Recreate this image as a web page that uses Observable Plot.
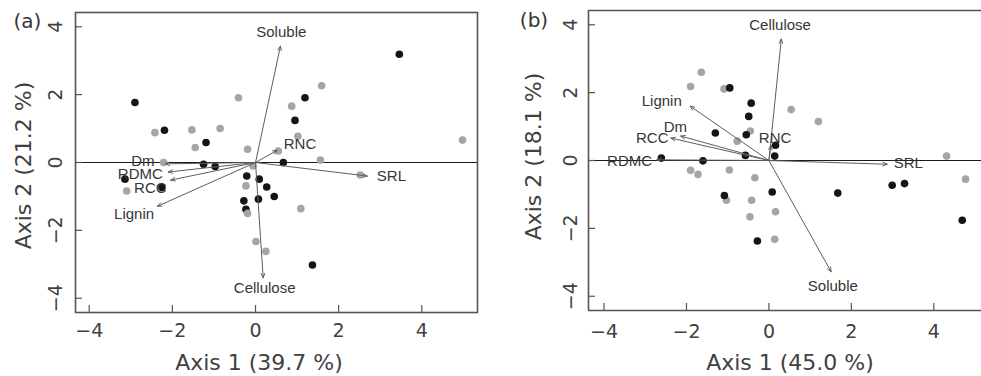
<!DOCTYPE html>
<html><head><meta charset="utf-8">
<script src="https://cdn.jsdelivr.net/npm/d3@7"></script>
<script src="https://cdn.jsdelivr.net/npm/@observablehq/plot@0.6"></script>
<style>
body{margin:0;background:#fff;}
#wrap{display:flex;width:981px;height:376px;overflow:hidden;}
#wrap svg{display:block;flex:none;}
</style></head><body><div id="wrap"></div>
<script>
// ---------- shared ----------
const axisTicks = [-4, -2, 0, 2, 4];
const arrowOrigin = [0, 0];

// ---------- panel (a) ----------
const aTag = "(a)";
const aXTitle = "Axis 1 (39.7 %)";
const aYTitle = "Axis 2 (21.2 %)";
const aBlackX = [-2.90, -2.19, -1.19, -1.25, -0.97, -3.14, -2.25, -0.21, 0.09, 0.27, -0.28, 0.07, 0.45, -0.23, 0.67, 0.95, 1.19, 3.46, 1.37];
const aBlackY = [1.77, 0.95, 0.59, -0.05, -0.12, -0.49, -0.74, -0.40, -0.49, -0.72, -1.13, -1.08, -1.00, -1.38, 0.00, 1.24, 1.91, 3.19, -3.02];
const aGreyX = [-2.42, -1.53, -0.85, -0.41, -1.45, -0.19, -2.21, -0.06, -3.10, -0.23, -0.19, 0.01, 0.25, 0.87, 1.02, 0.55, 1.56, 1.09, 1.59, 2.52, 4.98];
const aGreyY = [0.88, 0.96, 1.00, 1.91, 0.44, 0.39, 0.00, -0.10, -0.84, -0.69, -1.50, -2.33, -2.62, 1.66, 0.77, 0.34, 0.07, -1.36, 2.26, -0.37, 0.66];
const aVarNames = ["Soluble", "Cellulose", "SRL", "RNC", "Dm", "RDMC", "RCC", "Lignin"];
const aTipX = [0.60, 0.185, 2.69, 0.52, -2.17, -2.10, -2.04, -2.36];
const aTipY = [3.43, -3.40, -0.40, 0.36, -0.04, -0.28, -0.52, -1.29];
const aLabelX = [0.62, 0.22, 3.27, 1.07, -2.71, -2.77, -2.53, -2.92];
const aLabelY = [3.85, -3.71, -0.40, 0.53, 0.04, -0.33, -0.76, -1.53];
const aXDomain = [-4.33, 5.34];
const aYDomain = [-4.42, 4.42];

// ---------- panel (b) ----------
const bTag = "(b)";
const bXTitle = "Axis 1 (45.0 %)";
const bYTitle = "Axis 2 (18.1 %)";
const bBlackX = [-0.95, -0.43, -0.49, -1.30, -0.55, -0.57, 0.16, 0.14, -2.61, -1.60, 0.08, -1.08, -0.28, 1.67, 2.99, 3.29, 4.69];
const bBlackY = [2.14, 1.69, 1.30, 0.81, 0.76, 0.15, 0.45, 0.13, 0.07, -0.01, -0.93, -1.03, -2.37, -0.96, -0.73, -0.68, -1.76];
const bGreyX = [-1.64, -1.90, -1.09, 0.54, 1.20, -0.45, -0.77, -1.90, -1.72, -0.96, -0.34, -1.03, -0.42, 0.16, -0.46, 0.14, 4.31, 4.77];
const bGreyY = [2.60, 2.18, 2.11, 1.50, 1.15, 0.87, 0.57, -0.29, -0.41, -0.28, -0.51, -1.17, -1.17, -1.51, -1.66, -2.32, 0.13, -0.55];
const bVarNames = ["Cellulose", "RNC", "SRL", "Soluble", "Lignin", "Dm", "RCC", "RDMC"];
const bTipX = [0.30, 0.05, 2.87, 1.51, -1.91, -2.14, -2.38, -2.72];
const bTipY = [3.58, 0.45, -0.11, -3.28, 1.60, 0.72, 0.66, 0.02];
const bLabelX = [0.27, 0.15, 3.38, 1.55, -2.60, -2.27, -2.83, -3.38];
const bLabelY = [3.98, 0.66, -0.09, -3.70, 1.74, 0.97, 0.67, -0.02];
const bXDomain = [-4.377, 5.157];
const bYDomain = [-4.42, 4.42];

const fmt = d => d < 0 ? "\u2212" + Math.abs(d) : String(d);

function panel(o) {
  const black = o.bx.map((x, i) => ({x, y: o.by[i], g: "black"}));
  const grey = o.gx.map((x, i) => ({x, y: o.gy[i], g: "grey"}));
  const pts = o.blackOnTop ? grey.concat(black) : black.concat(grey);
  const vars = o.names.map((name, i) => ({name, x0: arrowOrigin[0], y0: arrowOrigin[1], x: o.tx[i], y: o.ty[i], lx: o.lx[i], ly: o.ly[i]}));
  const plotW = o.width - o.ml - o.mr, plotH = 376 - o.mt - o.mb;
  const frameStyle = {stroke: "#555", strokeWidth: 1.6};
  const frameMarks = o.openRight
    ? [Plot.ruleY(o.yDomain, frameStyle), Plot.ruleX([o.xDomain[0]], frameStyle)]
    : [Plot.frame(frameStyle)];
  const axisText = {fill: "#404040", textAnchor: "middle", lineAnchor: "middle"};
  return Plot.plot({
    width: o.width, height: 376,
    marginLeft: o.ml, marginRight: o.mr, marginTop: o.mt, marginBottom: o.mb,
    x: {domain: o.xDomain, axis: null},
    y: {domain: o.yDomain, axis: null},
    style: {fontFamily: "DejaVu Sans", fontSize: "19px", color: "#404040", background: "#fff", overflow: "visible"},
    marks: [
      Plot.ruleY([0], {stroke: "#1c1c1c", strokeWidth: 1.2}),
      Plot.dot(pts, {x: "x", y: "y", r: 3.8, fill: d => d.g === "black" ? "#151515" : "#a5a5a5", stroke: "none"}),
      Plot.arrow(vars, {x1: "x0", y1: "y0", x2: "x", y2: "y", stroke: "#5e5e5e", strokeWidth: 1, headLength: 7, headAngle: 45}),
      Plot.text(vars, {x: "lx", y: "ly", text: "name", fontFamily: "Liberation Sans", fontSize: 15, fill: "#363636"}),
      ...frameMarks,
      Plot.tickX(axisTicks, {x: d => d, stroke: "#555", strokeWidth: 1.2, insetTop: plotH - 7}),
      Plot.tickY(axisTicks, {y: d => d, stroke: "#555", strokeWidth: 1.2, insetRight: plotW - 7}),
      // tick labels
      Plot.text(axisTicks, {x: d => d, text: fmt, frameAnchor: "bottom", dy: o.xLabDy, fontSize: 19, ...axisText}),
      Plot.text(axisTicks, {y: d => d, text: fmt, frameAnchor: "left", rotate: -90, dx: o.yLabDx, fontSize: 19, ...axisText}),
      // axis titles
      Plot.text([o.xTitle], {frameAnchor: "bottom", dx: o.xtDx, dy: o.xtDy, fontSize: 22, ...axisText}),
      Plot.text([o.yTitle], {frameAnchor: "left", rotate: -90, dx: o.ytDx, dy: o.ytDy, fontSize: 22, ...axisText}),
      // panel tag
      Plot.text([o.tag], {frameAnchor: "top-left", dx: o.tagDx, dy: o.tagDy, fontSize: 20, fill: "#333", textAnchor: "middle", lineAnchor: "middle"})
    ]
  });
}

const wrap = document.getElementById("wrap");
wrap.appendChild(panel({
  width: 490, ml: 75, mr: 13, mt: 12, mb: 64,
  xDomain: aXDomain, yDomain: aYDomain,
  bx: aBlackX, by: aBlackY, gx: aGreyX, gy: aGreyY, blackOnTop: false,
  names: aVarNames, tx: aTipX, ty: aTipY, lx: aLabelX, ly: aLabelY,
  xTitle: aXTitle, yTitle: aYTitle, tag: aTag,
  xLabDy: 18.5, yLabDx: -19.5,
  xtDx: -17.5, xtDy: 50.5, ytDx: -51.5, ytDy: 3, tagDx: -48, tagDy: 9.5
}));
wrap.appendChild(panel({
  width: 491, ml: 98, mr: 0, mt: 10, mb: 66, openRight: true,
  xDomain: bXDomain, yDomain: bYDomain,
  bx: bBlackX, by: bBlackY, gx: bGreyX, gy: bGreyY, blackOnTop: true,
  names: bVarNames, tx: bTipX, ty: bTipY, lx: bLabelX, ly: bLabelY,
  xTitle: bXTitle, yTitle: bYTitle, tag: bTag,
  xLabDy: 21, yLabDx: -18,
  xtDx: 5, xtDy: 52.5, ytDx: -54.5, ytDy: -4, tagDx: -54.5, tagDy: 10
}));
</script></body></html>
